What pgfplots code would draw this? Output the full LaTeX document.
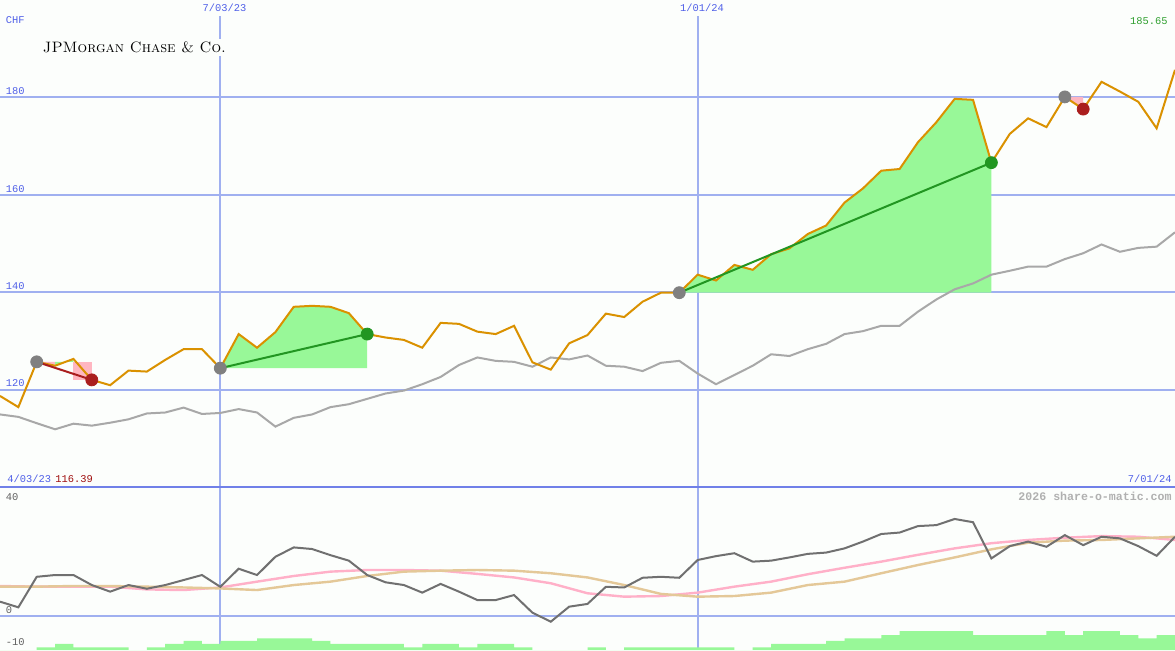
\documentclass[border=0pt]{standalone}
\usepackage{pgfplots}
\pgfplotsset{compat=1.18}
\usepackage{graphicx}
\usepackage{fontspec}
\newfontfamily\mono{Liberation Mono}
\definecolor{bg}{RGB}{252,254,252}
\definecolor{gridb}{RGB}{160,176,240}
\definecolor{sepb}{RGB}{112,128,232}
\definecolor{lblue}{RGB}{80,96,232}
\definecolor{price}{RGB}{218,145,0}
\definecolor{bench}{RGB}{168,168,168}
\definecolor{pgreen}{RGB}{152,248,152}
\definecolor{ppink}{RGB}{255,182,193}
\definecolor{tgreen}{RGB}{34,150,34}
\definecolor{tred}{RGB}{170,30,30}
\definecolor{mgray}{RGB}{128,128,128}
\definecolor{oscd}{RGB}{112,112,112}
\definecolor{oscp}{RGB}{255,176,200}
\definecolor{osct}{RGB}{228,200,152}
\definecolor{lgreen}{RGB}{48,160,48}
\definecolor{lred}{RGB}{160,16,16}
\definecolor{wm}{RGB}{176,176,176}
\definecolor{lgray}{RGB}{96,96,96}
\newcommand{\lf}{\fontsize{5.2}{6}\selectfont\mono}
\begin{document}
\begin{tikzpicture}
\useasboundingbox (0pt,0pt) rectangle (587.5pt,325pt);
\fill[bg] (0pt,0pt) rectangle (587.5pt,325pt);
% ---------------- top panel ----------------
\begin{axis}[at={(0pt,81.5pt)}, anchor=south west, scale only axis,
  width=587.5pt, height=243.5pt, xmin=0, xmax=64, ymin=100, ymax=200,
  hide axis, clip=true]
\draw[gridb, line width=1pt] (axis cs:0,120) -- (axis cs:64,120);
\draw[gridb, line width=1pt] (axis cs:0,140) -- (axis cs:64,140);
\draw[gridb, line width=1pt] (axis cs:0,160) -- (axis cs:64,160);
\draw[gridb, line width=1pt] (axis cs:0,180) -- (axis cs:64,180);
\draw[gridb, line width=1pt] (axis cs:12,196.7) -- (axis cs:12,100);
\draw[gridb, line width=1pt] (axis cs:38,196.7) -- (axis cs:38,100);
% trade areas
\addplot[fill=ppink, draw=none] coordinates {(2,125.7) (3,124.9) (3,125.7)};
\addplot[fill=pgreen, draw=none] coordinates {(3,125.7) (3,124.9) (4,126.3) (4,125.7)};
\addplot[fill=ppink, draw=none] coordinates {(4,125.7) (5,125.7) (5,122.0) (4,122.0)};
\addplot[fill=pgreen, draw=none] coordinates {(12,124.4) (13,131.4) (14,128.6) (15,131.8) (16,137.0) (17,137.2) (18,137.0) (19,135.7) (20,131.4) (20,124.4)};
\addplot[fill=pgreen, draw=none] coordinates {(37,139.9) (38,143.6) (39,142.4) (40,145.6) (41,144.6) (42,147.8) (43,149.0) (44,151.95) (45,153.7) (46,158.4) (47,161.3) (48,164.95) (49,165.3) (50,170.8) (51,174.9) (52,179.7) (53,179.5) (54,166.6) (54,139.9)};
\addplot[fill=ppink, draw=none] coordinates {(58,180.1) (59,180.1) (59,177.6)};
% benchmark
\addplot[bench, line width=1pt, mark=none] coordinates {(0,114.9) (1,114.4) (2,113.1) (3,111.85) (4,113.0) (5,112.6) (6,113.2) (7,113.9) (8,115.1) (9,115.3) (10,116.3) (11,115.0) (12,115.2) (13,116.0) (14,115.3) (15,112.4) (16,114.2) (17,114.9) (18,116.4) (19,117.0) (20,118.1) (21,119.2) (22,119.8) (23,121.1) (24,122.6) (25,125.05) (26,126.6) (27,125.9) (28,125.7) (29,124.7) (30,126.6) (31,126.2) (32,127.0) (33,124.9) (34,124.7) (35,123.8) (36,125.5) (37,125.9) (38,123.3) (39,121.1) (40,123.0) (41,124.9) (42,127.25) (43,126.9) (44,128.3) (45,129.4) (46,131.4) (47,132.0) (48,133.1) (49,133.1) (50,136.0) (51,138.5) (52,140.6) (53,141.8) (54,143.6) (55,144.4) (56,145.25) (57,145.25) (58,146.8) (59,148.0) (60,149.8) (61,148.3) (62,149.1) (63,149.35) (64,152.3)};
% price
\addplot[price, line width=1pt, mark=none] coordinates {(0,118.7) (1,116.4) (2,125.7) (3,124.9) (4,126.3) (5,122.0) (6,120.9) (7,123.9) (8,123.7) (9,126.1) (10,128.3) (11,128.3) (12,124.4) (13,131.4) (14,128.6) (15,131.8) (16,137.0) (17,137.2) (18,137.0) (19,135.7) (20,131.4) (21,130.7) (22,130.2) (23,128.6) (24,133.7) (25,133.5) (26,131.9) (27,131.4) (28,133.1) (29,125.6) (30,124.1) (31,129.5) (32,131.2) (33,135.6) (34,134.9) (35,138.05) (36,139.9) (37,139.9) (38,143.6) (39,142.4) (40,145.6) (41,144.6) (42,147.8) (43,149.0) (44,151.95) (45,153.7) (46,158.4) (47,161.3) (48,164.95) (49,165.3) (50,170.8) (51,174.9) (52,179.7) (53,179.5) (54,166.6) (55,172.5) (56,175.7) (57,173.9) (58,180.1) (59,177.6) (60,183.2) (61,181.2) (62,179.1) (63,173.65) (64,185.65)};
% trade lines
\addplot[tred, line width=1pt, mark=none] coordinates {(2,125.7) (5,122.0)};
\addplot[tgreen, line width=1pt, mark=none] coordinates {(12,124.4) (20,131.4)};
\addplot[tgreen, line width=1pt, mark=none] coordinates {(37,139.9) (54,166.6)};
% markers
\addplot[only marks, mark=*, mark size=3pt, mgray, mark options={draw=mgray, fill=mgray}] coordinates {(2,125.7) (12,124.4) (37,139.9) (58,180.1)};
\addplot[only marks, mark=*, mark size=3pt, tred, mark options={draw=tred, fill=tred}] coordinates {(5,122.0) (59,177.6)};
\addplot[only marks, mark=*, mark size=3pt, tgreen, mark options={draw=tgreen, fill=tgreen}] coordinates {(20,131.4) (54,166.6)};
\end{axis}
% ---------------- bottom panel ----------------
\begin{axis}[at={(0pt,0pt)}, anchor=south west, scale only axis,
  width=587.5pt, height=81.5pt, xmin=0, xmax=64, ymin=-10.46, ymax=40,
  hide axis, clip=true]
\draw[gridb, line width=1pt] (axis cs:0,0) -- (axis cs:64,0);
\draw[gridb, line width=1pt] (axis cs:12,40) -- (axis cs:12,-10.46);
\draw[gridb, line width=1pt] (axis cs:38,40) -- (axis cs:38,-10.46);
\addplot[oscp, line width=1.2pt, mark=none] coordinates {(0,9.35) (2,9.15) (4,9.15) (6,9.15) (8,8.3) (10,8.1) (12,8.9) (14,10.7) (16,12.45) (18,13.8) (20,14.3) (22,14.3) (24,14.1) (26,13.1) (28,12.0) (30,10.2) (32,7.1) (34,6.05) (36,6.25) (38,7.3) (40,9.15) (42,10.7) (44,13.0) (46,15.0) (48,16.9) (50,19.0) (52,21.0) (54,22.6) (56,23.6) (58,24.3) (60,24.8) (62,24.6) (64,23.6)};
\addplot[osct, line width=1.2pt, mark=none] coordinates {(0,9.15) (2,9.15) (4,9.35) (6,9.35) (8,9.15) (10,8.9) (12,8.6) (14,8.1) (16,9.65) (18,10.7) (20,12.45) (22,13.8) (24,14.1) (26,14.3) (28,14.1) (30,13.3) (32,12.0) (34,9.65) (36,6.9) (38,6.05) (40,6.25) (42,7.3) (44,9.65) (46,10.7) (48,13.3) (50,15.85) (52,18.2) (54,20.7) (56,22.75) (58,23.4) (60,23.6) (62,24.1) (64,24.6)};
\addplot[oscd, line width=1pt, mark=none] coordinates {(0,4.5) (1,2.75) (2,12.2) (3,12.75) (4,12.75) (5,9.65) (6,7.6) (7,9.65) (8,8.5) (9,9.65) (10,11.2) (11,12.75) (12,9.1) (13,14.7) (14,12.75) (15,18.4) (16,21.3) (17,20.8) (18,18.9) (19,17.2) (20,12.75) (21,10.5) (22,9.65) (23,7.3) (24,10.0) (25,7.6) (26,5.0) (27,5.0) (28,6.55) (29,1.1) (30,-1.7) (31,2.95) (32,3.8) (33,9.1) (34,8.9) (35,11.9) (36,12.2) (37,11.9) (38,17.4) (39,18.6) (40,19.5) (41,16.9) (42,17.2) (43,18.2) (44,19.3) (45,19.7) (46,21.0) (47,23.1) (48,25.45) (49,25.9) (50,27.9) (51,28.2) (52,30.1) (53,29.1) (54,17.9) (55,21.7) (56,23.1) (57,21.5) (58,25.1) (59,22.0) (60,24.6) (61,24.1) (62,21.7) (63,18.7) (64,24.6)};
\end{axis}
% bars (height above panel bottom, in oscillator units)
\begin{axis}[at={(0pt,0pt)}, anchor=south west, scale only axis,
  width=587.5pt, height=81.5pt, xmin=0, xmax=64, ymin=0, ymax=50.46,
  hide axis, clip=true]
\addplot[ybar interval, fill=pgreen, draw=none] coordinates {(0,0) (1,0) (2,0.84) (3,1.86) (4,0.84) (5,0.84) (6,0.84) (7,0) (8,0.84) (9,1.86) (10,2.79) (11,1.86) (12,2.79) (13,2.79) (14,3.62) (15,3.62) (16,3.62) (17,2.79) (18,1.86) (19,1.86) (20,1.86) (21,1.86) (22,0.84) (23,1.86) (24,1.86) (25,0.84) (26,1.86) (27,1.86) (28,0.84) (29,0) (30,0) (31,0) (32,0.84) (33,0) (34,0.84) (35,0.84) (36,0.84) (37,0.84) (38,0.84) (39,0.84) (40,0) (41,0.84) (42,1.86) (43,1.86) (44,1.86) (45,2.79) (46,3.62) (47,3.62) (48,4.64) (49,5.88) (50,5.88) (51,5.88) (52,5.88) (53,4.64) (54,4.64) (55,4.64) (56,4.64) (57,5.88) (58,4.64) (59,5.88) (60,5.88) (61,4.64) (62,3.62) (63,4.64) (64,4.64)};
\end{axis}
\draw[sepb, line width=1pt] (0pt,81.5pt) -- (587.5pt,81.5pt);
% labels
\node[anchor=west, inner sep=0pt, text=lblue] at (2.75pt,315pt) {\lf CHF};
\node[anchor=west, inner sep=0pt, text=lblue] at (2.75pt,279.65pt) {\lf 180};
\node[anchor=west, inner sep=0pt, text=lblue] at (2.75pt,230.5pt) {\lf 160};
\node[anchor=west, inner sep=0pt, text=lblue] at (2.75pt,182pt) {\lf 140};
\node[anchor=west, inner sep=0pt, text=lblue] at (2.75pt,133.5pt) {\lf 120};
\node[inner sep=0pt, text=lblue] at (112.25pt,321pt) {\lf 7/03/23};
\node[inner sep=0pt, text=lblue] at (351pt,321pt) {\lf 1/01/24};
\node[anchor=east, inner sep=0pt, text=lgreen] at (584pt,314.5pt) {\lf 185.65};
\node[anchor=west, inner sep=0pt, text=lblue] at (3.5pt,85.5pt) {\lf 4/03/23};
\node[anchor=west, inner sep=0pt, text=lred] at (27.5pt,85.5pt) {\lf 116.39};
\node[anchor=east, inner sep=0pt, text=lblue] at (586pt,85.5pt) {\lf 7/01/24};
\node[anchor=east, inner sep=0pt, text=wm] at (586pt,77pt) {\fontsize{5.8}{6.5}\selectfont\mono\bfseries 2026 share-o-matic.com};
\node[anchor=west, inner sep=0pt, text=lgray] at (2.75pt,76.65pt) {\lf 40};
\node[anchor=west, inner sep=0pt, text=lgray] at (2.75pt,20pt) {\lf 0};
\node[anchor=west, inner sep=0pt, text=lgray] at (2.75pt,3.85pt) {\lf -10};
\node[fill=bg, inner sep=1.5pt] at (67.25pt,301.25pt) {\resizebox{91.5pt}{!}{\textsc{JPMorgan Chase \& Co.}}};
\end{tikzpicture}
\end{document}
